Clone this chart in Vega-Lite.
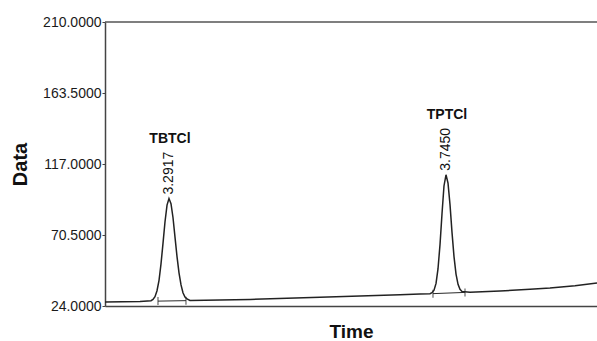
{
  "$schema": "https://vega.github.io/schema/vega-lite/v6.json",
  "width": 492,
  "height": 284,
  "autosize": {"type": "none"},
  "padding": {"left": 105, "top": 22, "right": 0, "bottom": 35},
  "background": "white",
  "config": {
    "view": {"stroke": null},
    "font": "Liberation Sans",
    "axis": {"grid": false}
  },
  "datasets": {
    "curve": [
      {"t": 3.1870, "v": 26.6},
      {"t": 3.2443, "v": 27.0},
      {"t": 3.2623, "v": 27.5},
      {"t": 3.2655, "v": 28.3},
      {"t": 3.2688, "v": 30.1},
      {"t": 3.2721, "v": 34.0},
      {"t": 3.2754, "v": 40.8},
      {"t": 3.2786, "v": 51.4},
      {"t": 3.2819, "v": 65.0},
      {"t": 3.2852, "v": 79.2},
      {"t": 3.2885, "v": 90.1},
      {"t": 3.2917, "v": 94.35},
      {"t": 3.2950, "v": 91.0},
      {"t": 3.2983, "v": 81.8},
      {"t": 3.3015, "v": 69.3},
      {"t": 3.3048, "v": 56.5},
      {"t": 3.3081, "v": 45.7},
      {"t": 3.3114, "v": 37.8},
      {"t": 3.3146, "v": 32.7},
      {"t": 3.3179, "v": 29.9},
      {"t": 3.3212, "v": 28.6},
      {"t": 3.3261, "v": 27.6},
      {"t": 3.4243, "v": 28.3},
      {"t": 3.5388, "v": 29.7},
      {"t": 3.6697, "v": 31.3},
      {"t": 3.7025, "v": 31.8},
      {"t": 3.7188, "v": 32.05},
      {"t": 3.7221, "v": 32.7},
      {"t": 3.7254, "v": 34.35},
      {"t": 3.7287, "v": 38.8},
      {"t": 3.7319, "v": 48.25},
      {"t": 3.7352, "v": 64.2},
      {"t": 3.7385, "v": 84.55},
      {"t": 3.7417, "v": 102.6},
      {"t": 3.7450, "v": 109.95},
      {"t": 3.7483, "v": 104.5},
      {"t": 3.7516, "v": 90.25},
      {"t": 3.7548, "v": 72.4},
      {"t": 3.7581, "v": 56.35},
      {"t": 3.7614, "v": 44.9},
      {"t": 3.7647, "v": 38.15},
      {"t": 3.7679, "v": 34.9},
      {"t": 3.7712, "v": 33.55},
      {"t": 3.7843, "v": 33.05},
      {"t": 3.8334, "v": 33.8},
      {"t": 3.8825, "v": 34.9},
      {"t": 3.9152, "v": 35.8},
      {"t": 3.9561, "v": 37.3},
      {"t": 3.9921, "v": 39.0}
    ],
    "baselines": [
      {"t1": 3.2737, "v1": 27.2, "t2": 3.3195, "v2": 27.5},
      {"t1": 3.7237, "v1": 32.1, "t2": 3.7761, "v2": 32.9}
    ],
    "marks": [
      {"t": 3.2737, "v": 27.2},
      {"t": 3.3195, "v": 27.5},
      {"t": 3.7237, "v": 32.1},
      {"t": 3.7761, "v": 32.9}
    ],
    "peaks": [
      {"t": 3.2917, "v": 94.35, "name": "TBTCl", "rt": "3.2917"},
      {"t": 3.7450, "v": 109.95, "name": "TPTCl", "rt": "3.7450"}
    ]
  },
  "layer": [
    {
      "data": {"name": "curve"},
      "mark": {"type": "line", "color": "#222", "strokeWidth": 1.5, "clip": true},
      "encoding": {
        "x": {
          "field": "t", "type": "quantitative",
          "scale": {"domain": [3.187, 3.9921], "nice": false, "zero": false},
          "axis": {
            "labels": false, "ticks": false, "domainColor": "#444", "domainWidth": 1.5,
            "title": "Time", "titleFont": "Liberation Sans", "titleFontSize": 19,
            "titleFontWeight": "bold", "titleColor": "#111", "titlePadding": 16
          }
        },
        "y": {
          "field": "v", "type": "quantitative",
          "scale": {"domain": [24, 210], "nice": false, "zero": false},
          "axis": {
            "values": [24, 70.5, 117, 163.5, 210], "format": ".4f",
            "labelFont": "Liberation Sans", "labelFontSize": 14, "labelColor": "#1a1a1a",
            "tickSize": 3, "tickColor": "#444", "labelPadding": 1,
            "domainColor": "#444", "domainWidth": 1.5,
            "title": "Data", "titleFont": "Liberation Sans", "titleFontSize": 20,
            "titleFontWeight": "bold", "titleColor": "#111", "titlePadding": 12
          }
        }
      }
    },
    {
      "data": {"values": [{}]},
      "mark": {"type": "rule", "color": "#555", "strokeWidth": 1.5},
      "encoding": {"y": {"datum": 210, "type": "quantitative"}}
    },
    {
      "data": {"name": "baselines"},
      "mark": {"type": "rule", "color": "#2a2a2a", "strokeWidth": 1},
      "encoding": {
        "x": {"field": "t1", "type": "quantitative"},
        "x2": {"field": "t2"},
        "y": {"field": "v1", "type": "quantitative"},
        "y2": {"field": "v2"}
      }
    },
    {
      "data": {"name": "marks"},
      "mark": {"type": "tick", "orient": "vertical", "size": 8, "thickness": 1.2, "color": "#2a2a2a"},
      "encoding": {
        "x": {"field": "t", "type": "quantitative"},
        "y": {"field": "v", "type": "quantitative"}
      }
    },
    {
      "data": {"name": "peaks"},
      "mark": {"type": "text", "angle": 270, "align": "left", "baseline": "middle", "dx": 4, "fontSize": 14, "font": "Liberation Sans", "color": "#111"},
      "encoding": {
        "x": {"field": "t", "type": "quantitative"},
        "y": {"field": "v", "type": "quantitative"},
        "text": {"field": "rt"}
      }
    },
    {
      "data": {"name": "peaks"},
      "mark": {"type": "text", "align": "center", "baseline": "alphabetic", "dy": -56, "dx": 1, "fontSize": 14, "fontWeight": "bold", "font": "Liberation Sans", "color": "#111"},
      "encoding": {
        "x": {"field": "t", "type": "quantitative"},
        "y": {"field": "v", "type": "quantitative"},
        "text": {"field": "name"}
      }
    }
  ]
}
